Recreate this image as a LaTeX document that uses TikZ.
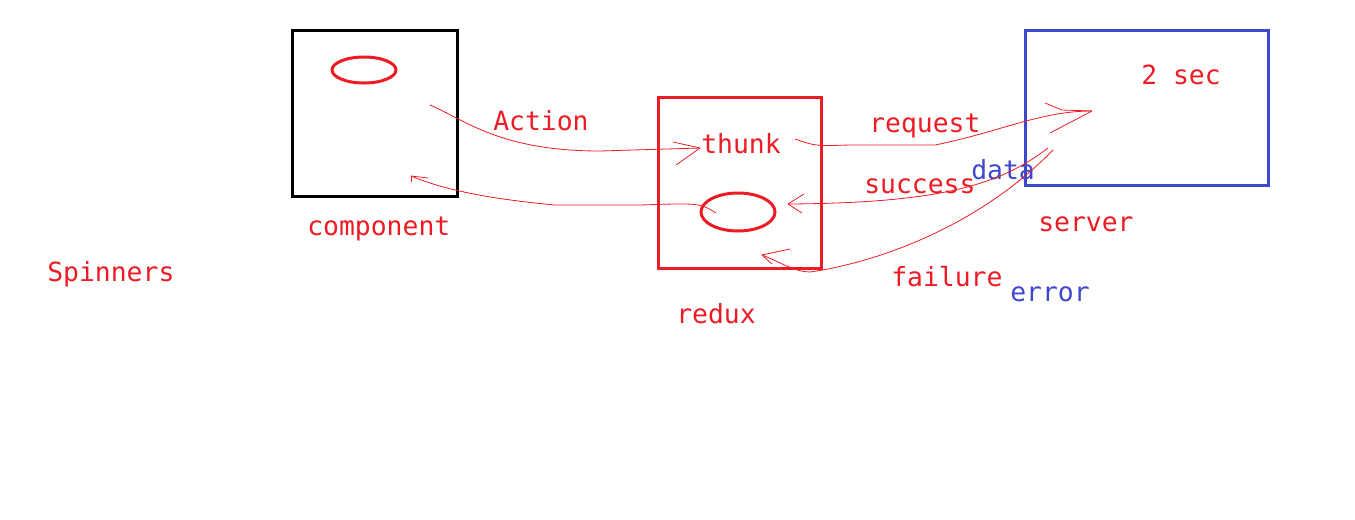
\documentclass[tikz,border=0pt]{standalone}
\usepackage{fontspec}
\setmonofont{DejaVu Sans Mono}
\usetikzlibrary{shapes.geometric}
\definecolor{paintred}{RGB}{237,28,36}
\definecolor{paintblue}{RGB}{63,72,204}
\tikzset{
  box/.style={draw, line width=2.25pt, inner sep=0pt},
  blob/.style={draw=paintred, ellipse, line width=2.25pt, inner sep=0pt},
  lbl/.style={anchor=base west, inner sep=0pt, xshift=-1.5pt, yshift=-1.5pt, font=\ttfamily\fontsize{19.8}{24}\selectfont},
  hand/.style={draw=paintred, line width=0.6pt}
}
\begin{document}
\begin{tikzpicture}[x=0.75pt,y=-0.75pt]
		\useasboundingbox (0,0) rectangle (1355,519);
		%\draw [help lines] (0,0) grid (1355,519);
		% boxes
		\node [box, minimum width=123.75pt, minimum height=124.5pt] (comp) at (374.5,113) {};
		\node [box, draw=paintred, minimum width=122.25pt, minimum height=128.25pt] (redux) at (739.5,182.5) {};
		\node [box, draw=paintblue, minimum width=182.25pt, minimum height=116.25pt] (server) at (1146.5,107.5) {};
		\node [blob, minimum width=48pt, minimum height=19.5pt] (spin) at (364,70) {};
		\node [blob, minimum width=55.5pt, minimum height=28.5pt] (store) at (738,212) {};

		% labels
		\node [lbl, paintred] (complbl) at (309,233) {component};
		\node [lbl, paintred] (reduxlbl) at (678,321) {redux};
		\node [lbl, paintred] (serverlbl) at (1040,229) {server};
		\node [lbl, paintred] (thunk) at (703,151) {thunk};
		\node [lbl, paintred] (delay) at (1143,82) {2 sec};
		\node [lbl, paintred] (action) at (495,128) {Action};
		\node [lbl, paintred] (request) at (871,130) {request};
		\node [lbl, paintred] (success) at (866,191) {success};
		\node [lbl, paintred] (failure) at (893,284) {failure};
		\node [lbl, paintblue] (data) at (973,177) {data};
		\node [lbl, paintblue] (error) at (1012,299) {error};
		\node [lbl, paintred] (spinners) at (49,279) {Spinners};

		% hand drawn arrows
		\coordinate (a1s) at (430,105);
		\coordinate (a1e) at (700,148);
		\draw [hand] (a1s) .. controls (465,120) and (500,151) .. (600,151) -- (a1e);
		\draw [hand] (a1e) -- ++(-27,-6);
		\draw [hand] (a1e) -- ++(-24,17);

		\coordinate (a2s) at (716,213);
		\coordinate (a2e) at (411,176);
		\draw [hand] (a2s) .. controls (700,203) .. (640,205) -- (555,205) .. controls (480,198) and (440,188) .. (a2e);
		\draw [hand] (a2e) -- ++(17,2);
		\draw [hand] (a2e) -- ++(0,6);

		\coordinate (a3s) at (795,139);
		\coordinate (a3e) at (1092,111);
		\draw [hand] (a3s) .. controls (815,146) .. (850,145) -- (935,145) .. controls (1000,132) and (1040,111) .. (a3e);
		\draw [hand] (a3e) -- (1062,110) -- (1045,103);
		\draw [hand] (a3e) -- (1050,133);

		\coordinate (a4s) at (1048,148);
		\coordinate (a4e) at (788,204);
		\draw [hand] (a4s) .. controls (1000,185) and (940,203) .. (a4e);
		\draw [hand] (a4e) -- ++(16,-10);
		\draw [hand] (a4e) -- ++(14,9);

		\coordinate (a5s) at (1053,150);
		\coordinate (a5e) at (762,255);
		\draw [hand] (a5s) .. controls (980,225) and (880,262) .. (810,272) .. controls (795,272) and (780,262) .. (a5e);
		\draw [hand] (a5e) -- ++(28,-6);
		\draw [hand] (a5e) -- ++(10,9);
	\end{tikzpicture}
\end{document}
